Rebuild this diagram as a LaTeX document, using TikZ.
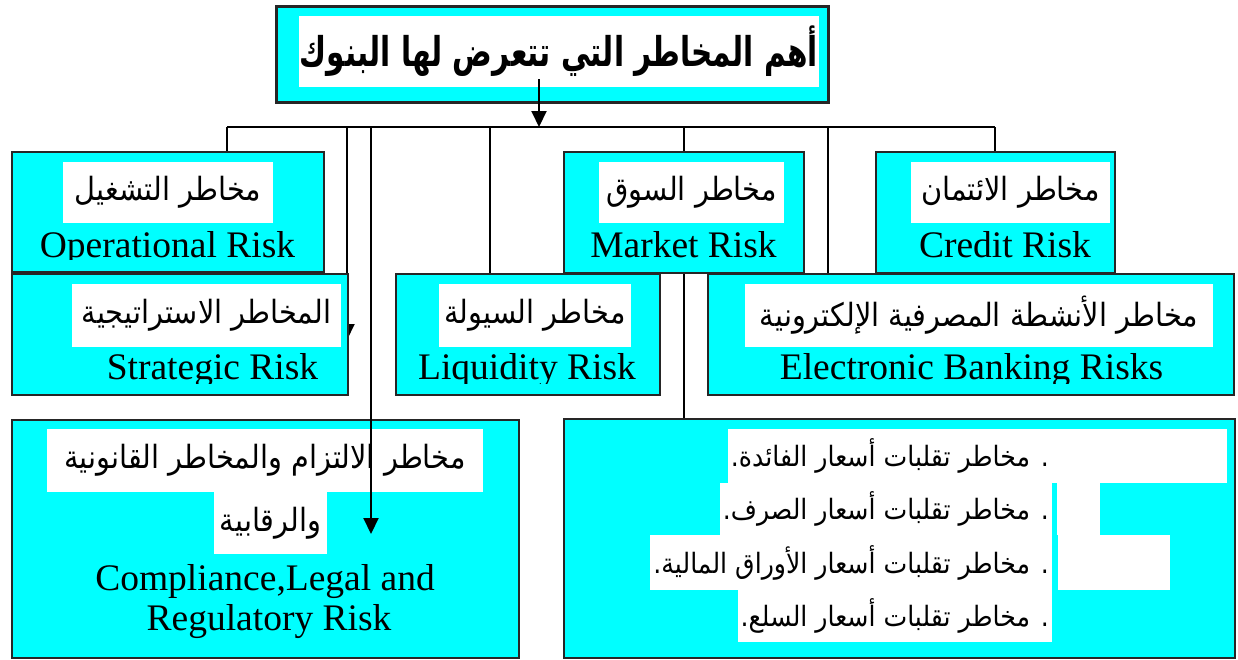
\documentclass[tikz,border=0pt]{standalone}
\usepackage{fontspec}
\setmainfont{Liberation Serif}
\newfontfamily\arfont[Script=Arabic,FakeStretch=0.9]{DejaVu Sans}
\newfontfamily\artitlefont[Script=Arabic,FakeStretch=0.72]{DejaVu Sans}
\TeXXeTstate=1
\usetikzlibrary{arrows.meta,backgrounds}
\definecolor{riskcyan}{RGB}{0,255,255}
\newcommand{\arline}[1]{\beginR #1\endR}
\tikzstyle{riskbox}=[draw=black!85,line width=2pt,fill=riskcyan,anchor=north west,inner sep=0pt]
\tikzstyle{arlabel}=[fill=white,inner sep=0pt,font=\arfont\fontsize{32}{36}\selectfont]
\tikzstyle{listline}=[fill=white,inner sep=0pt,inner xsep=3pt,anchor=east,font=\arfont\fontsize{28}{31}\selectfont]
\tikzstyle{enlabel}=[inner sep=0pt,anchor=base,font=\fontsize{37.5}{40}\selectfont]
\tikzstyle{link}=[line width=2pt]
\tikzstyle{down}=[link,-{Triangle[length=16pt,width=15pt]}]

\begin{document}
\begin{tikzpicture}[x=1pt,y=-1pt]
  \useasboundingbox (0,0) rectangle (1238,659);

  \node[riskbox,line width=3pt,minimum width=552pt,minimum height=96pt] (title) at (275,5) {};
  \node[fill=white,inner sep=0pt,minimum width=520pt,minimum height=71pt,
        font=\artitlefont\bfseries\fontsize{41}{45}\selectfont] (titleAr) at (559,51.5)
        {\arline{أهم المخاطر التي تتعرض لها البنوك}};

  \node[riskbox,minimum width=312pt,minimum height=120pt] (op) at (11,151) {};
  \node[arlabel,minimum width=210pt,minimum height=61pt] (opAr) at (168,192.5) {\arline{مخاطر التشغيل}};
  \node[riskbox,minimum width=240pt,minimum height=121pt] (mkt) at (563,151) {};
  \node[arlabel,minimum width=185pt,minimum height=61pt] (mktAr) at (691.5,192.5) {\arline{مخاطر السوق}};
  \node[riskbox,minimum width=239pt,minimum height=121pt] (cr) at (875,151) {};
  \node[arlabel,minimum width=199pt,minimum height=61pt] (crAr) at (1010.5,192.5) {\arline{مخاطر الائتمان}};

  \node[riskbox,minimum width=336pt,minimum height=121pt] (str) at (11,273) {};
  \node[arlabel,minimum width=269pt,minimum height=63pt] (strAr) at (206.5,315.5) {\arline{المخاطر الاستراتيجية}};
  \node[riskbox,minimum width=264pt,minimum height=121pt] (liq) at (395,273) {};
  \node[arlabel,minimum width=192pt,minimum height=63pt] (liqAr) at (535,315.5) {\arline{مخاطر السيولة}};
  \node[riskbox,minimum width=526pt,minimum height=121pt] (el) at (707,273) {};
  \node[arlabel,minimum width=468pt,minimum height=63pt] (elAr) at (979,315.5) {\arline{مخاطر الأنشطة المصرفية الإلكترونية}};

  \begin{scope}
    \clip (0,0) rectangle (1238,259);
    \node[enlabel] (opEn) at (167.5,257) {Operational Risk};
    \node[enlabel] (mktEn) at (683.5,257) {Market Risk};
    \node[enlabel] (crEn) at (1005,257) {Credit Risk};
  \end{scope}
  \begin{scope}
    \clip (0,0) rectangle (1238,383);
    \node[enlabel] (strEn) at (212.5,379) {Strategic Risk};
    \node[enlabel] (liqEn) at (527,379) {Liquidity Risk};
    \node[enlabel] (elEn) at (971.5,379) {Electronic Banking Risks};
  \end{scope}

  \node[riskbox,minimum width=507pt,minimum height=238pt] (comp) at (11,419) {};
  \node[arlabel,minimum width=436pt,minimum height=63pt] (compAr) at (265,460.5) {\arline{مخاطر الالتزام والمخاطر القانونية}};
  \node[arlabel,minimum width=113pt,minimum height=62pt] (compArB) at (270.5,523) {\arline{والرقابية}};
  \node[enlabel] (compEn) at (265,590) {Compliance,Legal and};
  \node[enlabel] (compEnB) at (269,630) {Regulatory Risk};

  \node[riskbox,minimum width=671pt,minimum height=239pt] (mktsub) at (563,418) {};
  \fill[white] (1052,429) rectangle (1227,483);
  \fill[white] (1057,483) rectangle (1100,535);
  \fill[white] (1058,535) rectangle (1170,590);
  \node[listline,minimum height=54pt] (mk1) at (1052,456) {\arline{. مخاطر تقلبات أسعار الفائدة.}};
  \node[listline,minimum height=52pt] (mk2) at (1052,509) {\arline{. مخاطر تقلبات أسعار الصرف.}};
  \node[listline,minimum height=55pt] (mk3) at (1052,562.5) {\arline{. مخاطر تقلبات أسعار الأوراق المالية.}};
  \node[listline,minimum height=52pt] (mk4) at (1052,616) {\arline{. مخاطر تقلبات أسعار السلع.}};

  \coordinate (barL) at (227,127);
  \coordinate (barR) at (995,127);
  \coordinate (b2) at (347,127);
  \coordinate (b3) at (371,127);
  \coordinate (b4) at (490,127);
  \coordinate (b6) at (828,127);
  \coordinate (strTip) at (347,340);
  \coordinate (compTip) at (371,534);
  \coordinate (titleFoot) at (539,79);

  \begin{scope}[on background layer]
    \draw[link] (barL) -- (barR);
    \draw[link] (barL) -- (barL |- op.north);
    \draw[down] (b2) -- (strTip);
    \draw[link] (b4) -- (b4 |- liq.north);
    \draw[link] (mkt.north |- barL) -- (mkt.north);
    \draw[link] (b6) -- (b6 |- el.north);
    \draw[link] (barR) -- (barR |- cr.north);
    \draw[link] (mkt.south) -- (mkt.south |- mktsub.north);
  \end{scope}

  \draw[down] (titleFoot) -- (titleFoot |- barL);
  \draw[down] (b3) -- (compTip);
\end{tikzpicture}
\end{document}
